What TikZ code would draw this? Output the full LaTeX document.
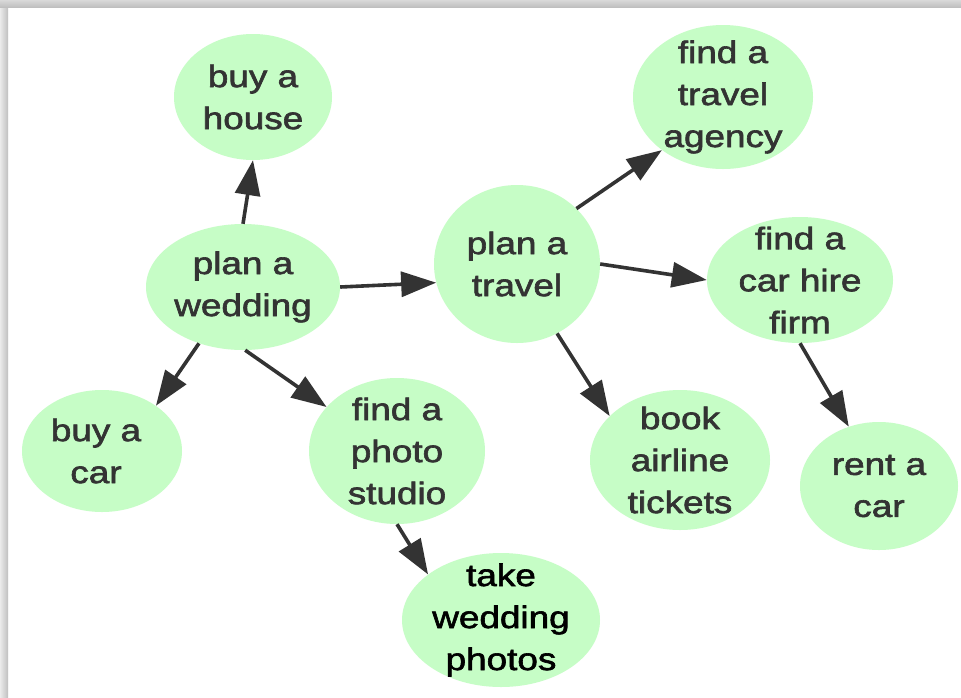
\documentclass[tikz,border=0pt]{standalone}
\usepackage{fontspec}
\setmainfont{Liberation Sans}[FakeStretch=1.19, FakeBold=2]
\usetikzlibrary{shapes.geometric, arrows.meta}
\definecolor{bubblefill}{RGB}{198,253,198}
\definecolor{ink}{RGB}{51,51,51}
\begin{document}
\begin{tikzpicture}[x=1pt, y=-1pt,
  bubble/.style={ellipse, fill=bubblefill, inner sep=0pt},
  caption/.style={align=center, text=ink, inner sep=0pt,
    font=\fontsize{31}{42}\selectfont},
  conn/.style={draw=ink, line width=3.6pt,
    -{Triangle[length=35pt, width=25pt]}}]
\useasboundingbox (0,0) rectangle (961,697);
\fill[white] (0,0) rectangle (961,697);
% window frame shadow
\shade[left color=black!8, right color=black!25] (0,0) rectangle (8,697);
\shade[top color=black!15, bottom color=black!25] (0,0) rectangle (961,7);

% topics
\node[bubble, minimum width=158pt, minimum height=126pt,
  label={[caption]center:buy a\\house}] (house) at (253,97) {};
\node[bubble, minimum width=194pt, minimum height=126pt,
  label={[caption]center:plan a\\wedding}] (wed) at (243,287) {};
\node[bubble, minimum width=166pt, minimum height=158pt,
  label={[caption]center:plan a\\travel}] (trav) at (517,264) {};
\node[bubble, minimum width=180pt, minimum height=144pt,
  label={[caption]center:find a\\travel\\agency}] (agency) at (723,97) {};
\node[bubble, minimum width=186pt, minimum height=126pt,
  label={[caption]center:find a\\car hire\\firm}] (hire) at (800,280) {};
\node[bubble, minimum width=158pt, minimum height=128pt,
  label={[caption]center:rent a\\car}] (rent) at (879,486) {};
\node[bubble, minimum width=180pt, minimum height=140pt,
  label={[caption]center:book\\airline\\tickets}] (book) at (680,460) {};
\node[bubble, minimum width=160pt, minimum height=122pt,
  label={[caption, xshift=-6pt]center:buy a\\car}] (bcar) at (102,451) {};
\node[bubble, minimum width=176pt, minimum height=146pt,
  label={[caption]center:find a\\photo\\studio}] (studio) at (397,451) {};
\node[bubble, minimum width=198pt, minimum height=134pt,
  label={[caption, text=black]center:take\\wedding\\photos}] (photos) at (501,620) {};

% connectors
\draw[conn] (wed.90) -- (house.270);
\draw[conn] (wed.0) -- (trav.193);
\draw[conn] (wed.232) -- (bcar.40);
\draw[conn] (wed.272) -- (studio.148);
\draw[conn] (studio.270) -- (photos.148);
\draw[conn] (trav.43) -- (agency.221);
\draw[conn] (trav.0) -- (hire.180);
\draw[conn] (trav.300) -- (book.148);
\draw[conn] (hire.270) -- (rent.117);
\end{tikzpicture}
\end{document}
